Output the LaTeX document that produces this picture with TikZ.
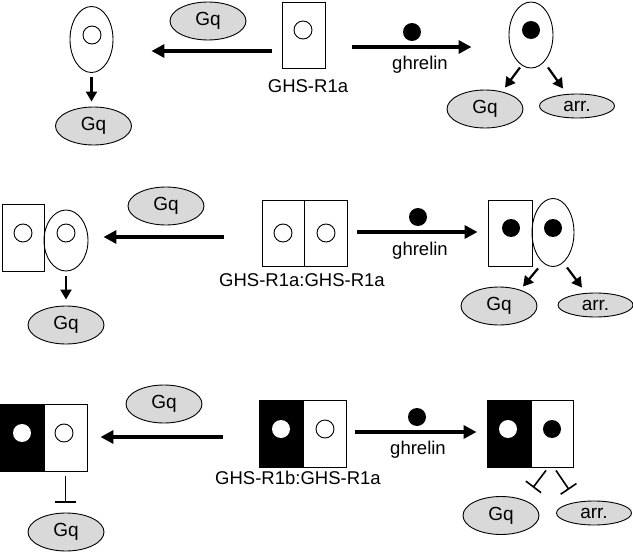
\documentclass[tikz,border=0pt]{standalone}
\usepackage{fontspec}
\setmainfont{Liberation Sans}
\usepackage{tikz}
\usetikzlibrary{positioning,arrows.meta,shapes.geometric}

\tikzset{
  recbox/.style={draw, rectangle, line width=0.9pt, minimum width=43pt, minimum height=66pt, inner sep=0pt},
  cellov/.style={draw, ellipse, line width=0.9pt, minimum width=43pt, minimum height=66pt, inner sep=0pt},
  gprot/.style={draw, ellipse, fill=gray!30, line width=0.9pt, minimum width=76pt, minimum height=38pt, inner sep=0pt, font=\fontsize{19}{22}\selectfont},
  arrest/.style={gprot, minimum width=75pt, minimum height=24pt},
  opensite/.style={draw, circle, line width=0.9pt, minimum size=18pt, inner sep=0pt},
  ligand/.style={circle, fill=black, minimum size=18pt, inner sep=0pt},
  whitesite/.style={circle, fill=white, minimum size=18pt, inner sep=0pt},
  lbl/.style={font=\fontsize{18.5}{20}\selectfont, inner sep=0pt},
  bigarrow/.style={line width=3.5pt, -{Triangle[length=13pt,width=13pt]}},
  smallarrow/.style={line width=2.2pt, -{Triangle[length=10pt,width=11pt]}},
  blocker/.style={line width=1.6pt, -{Bar[width=19pt]}},
}

\begin{document}
\begin{tikzpicture}[x=1pt,y=-1pt]
\useasboundingbox (0,0) rectangle (633,554);

% Top row: GHS-R1a alone
\node[recbox] (recA) at (304,35.5) {};
\node[opensite] (siteA) at (303,30) {};
\node[lbl] (labA) at (308,86) {GHS-R1a};
\node[cellov] (cellA) at (91.5,39.5) {};
\node[opensite] (siteA2) at (92,35) {};
\node[gprot] (gqfA) at (208,21) {Gq};
\node[gprot] (gqA) at (93.5,126) {Gq};
\draw[bigarrow] ([shift={(-10,15.5)}]recA.west) -- ([shift={(38,11.5)}]cellA.east);
\draw[smallarrow, shorten <=4pt, shorten >=5pt] (cellA.south) -- (cellA.south |- gqA.north);

\node[ligand] (ligA) at (412,32) {};
\node[lbl] (ghrA) at (420,65) {ghrelin};
\node[cellov, minimum width=44pt] (cellB) at (531,35) {};
\node[ligand] (ligB) at (531,30) {};
\node[gprot] (gqB) at (485,109) {Gq};
\node[arrest] (arrB) at (577,106) {arr.};
\draw[bigarrow] ([shift={(26.5,11.5)}]recA.east) -- ([shift={(-37,12)}]cellB.west);
\draw[smallarrow] ([shift={(-11,-1)}]cellB.south) -- ([shift={(20,-2)}]gqB.north);
\draw[smallarrow] ([shift={(17,-1)}]cellB.south) -- ([shift={(-14,-5)}]arrB.north);

% Middle row: GHS-R1a:GHS-R1a
\node[recbox, minimum width=42.5pt] (dimL) at (283.25,233) {};
\node[recbox, minimum width=42.5pt] (dimR) at (325.75,233) {};
\node[opensite] (siteC1) at (283,233) {};
\node[opensite] (siteC2) at (326,233) {};
\node[lbl] (labC) at (302,280) {GHS-R1a:GHS-R1a};

\node[recbox, minimum width=42pt, minimum height=67pt] (recC) at (23,237.5) {};
\node[cellov, minimum width=44pt, minimum height=61pt] (cellC) at (66,240.5) {};
\node[opensite] (siteC3) at (23,233) {};
\node[opensite] (siteC4) at (66,233) {};
\node[gprot] (gqfC) at (166,206) {Gq};
\node[gprot] (gqC) at (66,325) {Gq};
\draw[bigarrow] ([shift={(-38,4)}]dimL.west) -- ([shift={(15,-3.5)}]cellC.east);
\draw[smallarrow, shorten <=5pt, shorten >=6pt] (cellC.south) -- (cellC.south |- gqC.north);

\node[ligand] (ligC) at (418,217) {};
\node[lbl] (ghrC) at (420,251) {ghrelin};
\node[recbox, minimum width=44pt] (recD) at (510,233) {};
\node[cellov, minimum width=42pt, minimum height=68pt] (cellD) at (553,232.5) {};
\node[ligand] (ligD1) at (511,228) {};
\node[ligand] (ligD2) at (553,228) {};
\node[gprot] (gqD) at (499,306) {Gq};
\node[arrest] (arrD) at (595.5,305) {arr.};
\draw[bigarrow] ([shift={(10,-1)}]dimR.east) -- ([shift={(-10,-1)}]recD.west);
\draw[smallarrow] ([shift={(-15,1.5)}]cellD.south) -- ([shift={(24,0)}]gqD.north);
\draw[smallarrow] ([shift={(14,0.5)}]cellD.south) -- ([shift={(-13.5,-5)}]arrD.north);

% Bottom row: GHS-R1b:GHS-R1a
\node[recbox, fill=black, minimum width=44pt, minimum height=67pt] (blkF) at (281,433.5) {};
\node[recbox, minimum height=67pt] (whtF) at (324.5,433.5) {};
\node[whitesite] (siteF1) at (281,429) {};
\node[opensite] (siteF2) at (325,429) {};
\node[lbl] (labF) at (298,478) {GHS-R1b:GHS-R1a};

\node[recbox, fill=black, minimum width=44pt, minimum height=67pt] (blkE) at (22,437.5) {};
\node[recbox, minimum height=67pt] (whtE) at (65.5,437.5) {};
\node[whitesite] (siteE1) at (22,433) {};
\node[opensite] (siteE2) at (64,433) {};
\node[gprot] (gqfE) at (164,404) {Gq};
\node[gprot] (gqE) at (66,532) {Gq};
\draw[bigarrow] ([shift={(-36,3.5)}]blkF.west) -- ([shift={(13,-0.5)}]whtE.east);
\draw[blocker, -{Bar[width=21pt]}, shorten <=5pt, shorten >=10pt] (whtE.south) -- (whtE.south |- gqE.north);

\node[ligand] (ligG) at (417,417) {};
\node[lbl] (ghrG) at (418,450) {ghrelin};
\node[recbox, fill=black, minimum width=44pt, minimum height=67pt] (blkG) at (509,433.5) {};
\node[recbox, minimum width=42pt, minimum height=67pt] (whtG) at (552,433.5) {};
\node[whitesite] (siteG1) at (508,429) {};
\node[ligand] (siteG2) at (552,429) {};
\node[gprot] (gqG) at (501,515.5) {Gq};
\node[arrest] (arrG) at (594,513) {arr.};
\draw[bigarrow] ([shift={(9,-1.5)}]whtF.east) -- ([shift={(-10,-1.5)}]blkG.west);
\draw[blocker] ([shift={(-6,3)}]whtG.south) -- ([shift={(32,-8.5)}]gqG.north);
\draw[blocker] ([shift={(4,3)}]whtG.south) -- ([shift={(-25,-11)}]arrG.north);
\end{tikzpicture}
\end{document}
